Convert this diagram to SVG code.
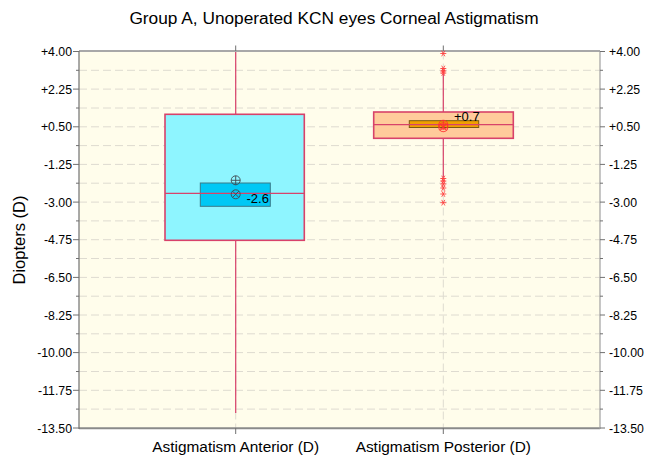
<svg xmlns="http://www.w3.org/2000/svg" width="645" height="459" viewBox="0 0 645 459">
<style>
text{font-family:"Liberation Sans",Arial,sans-serif;fill:#000}
.tl{font-size:12.3px;text-anchor:end}
.tr{font-size:12.3px;text-anchor:start}
.cat{font-size:15.4px;text-anchor:middle}
.grid{stroke:#DEDBD0;stroke-width:1;stroke-dasharray:8 4;fill:none}
.tick{stroke:#707070;stroke-width:1}
.wh{stroke:#D8426A;stroke-width:1.2;fill:none}
.box{stroke:#D8426A;stroke-width:1.6}
.ast{stroke:#FF3A3A;stroke-width:1;fill:none;opacity:0.85}
</style>
<defs>
<g id="star"><path d="M-3,0h6M-1.6,-2.8l3.2,5.6M1.6,-2.8l-3.2,5.6" class="ast"/></g>
</defs>
<rect x="0" y="0" width="645" height="459" fill="#FFFFFF"/>
<text x="334" y="24" style="font-size:17.3px;text-anchor:middle">Group A, Unoperated KCN eyes Corneal Astigmatism</text>
<g id="plot-area">
<rect x="79" y="51.5" width="521" height="376.5" fill="#FFFDEB"/>
<g class="grid">
<path d="M79,70.3H600M79,89.1H600M79,108H600M79,126.8H600M79,145.6H600M79,164.4H600M79,183.2H600M79,202.1H600M79,220.9H600M79,239.7H600M79,258.5H600M79,277.4H600M79,296.2H600M79,315H600M79,333.8H600M79,352.6H600M79,371.5H600M79,390.3H600M79,409.1H600"/>
<path d="M235.7,51.5V428M443.3,51.5V428"/>
</g>
<line x1="79" y1="51" x2="600" y2="51" stroke="#A8A8A8" stroke-width="2"/>
<line x1="79" y1="428.3" x2="600" y2="428.3" stroke="#8A8A8A" stroke-width="2"/>
<line x1="79" y1="51" x2="79" y2="429" stroke="#707070" stroke-width="1.2"/>
<line x1="600" y1="51" x2="600" y2="429" stroke="#A0A0A0" stroke-width="1.2"/>
</g>
<g id="y-axis-left">
<path class="tick" d="M73,51.5H79M73,89.1H79M73,126.8H79M73,164.4H79M73,202.1H79M73,239.7H79M73,277.4H79M73,315H79M73,352.6H79M73,390.3H79M73,428H79M76,70.3H79M76,108H79M76,145.6H79M76,183.2H79M76,220.9H79M76,258.5H79M76,296.2H79M76,333.8H79M76,371.5H79M76,409.1H79"/>
<text class="tl" x="72" y="56">+4.00</text>
<text class="tl" x="72" y="93.6">+2.25</text>
<text class="tl" x="72" y="131.3">+0.50</text>
<text class="tl" x="72" y="168.9">-1.25</text>
<text class="tl" x="72" y="206.6">-3.00</text>
<text class="tl" x="72" y="244.2">-4.75</text>
<text class="tl" x="72" y="281.9">-6.50</text>
<text class="tl" x="72" y="319.5">-8.25</text>
<text class="tl" x="72" y="357.1">-10.00</text>
<text class="tl" x="72" y="394.8">-11.75</text>
<text class="tl" x="72" y="432.5">-13.50</text>
<text transform="translate(25,240) rotate(-90)" style="font-size:16.5px;text-anchor:middle">Diopters (D)</text>
</g>
<g id="y-axis-right">
<path class="tick" d="M600,51.5H605M600,89.1H605M600,126.8H605M600,164.4H605M600,202.1H605M600,239.7H605M600,277.4H605M600,315H605M600,352.6H605M600,390.3H605M600,428H605M600,70.3H603M600,108H603M600,145.6H603M600,183.2H603M600,220.9H603M600,258.5H603M600,296.2H603M600,333.8H603M600,371.5H603M600,409.1H603"/>
<text class="tr" x="609" y="56">+4.00</text>
<text class="tr" x="609" y="93.6">+2.25</text>
<text class="tr" x="609" y="131.3">+0.50</text>
<text class="tr" x="609" y="168.9">-1.25</text>
<text class="tr" x="609" y="206.6">-3.00</text>
<text class="tr" x="609" y="244.2">-4.75</text>
<text class="tr" x="609" y="281.9">-6.50</text>
<text class="tr" x="609" y="319.5">-8.25</text>
<text class="tr" x="609" y="357.1">-10.00</text>
<text class="tr" x="609" y="394.8">-11.75</text>
<text class="tr" x="609" y="432.5">-13.50</text>
</g>
<g id="x-axis">
<path class="tick" d="M235.7,428V434M443.3,428V434M235.7,45.5V51M443.3,45.5V51"/>
<text class="cat" x="235.7" y="452">Astigmatism Anterior (D)</text>
<text class="cat" x="443.3" y="452">Astigmatism Posterior (D)</text>
</g>
<g id="box-anterior">
<path class="wh" d="M235.7,52V114.3M235.7,240.3V413"/>
<rect class="box" x="165" y="114.3" width="139.3" height="126" fill="#8EF5FF"/>
<rect x="200.3" y="183" width="70" height="23.3" fill="#00C8F5" stroke="#3A7A88" stroke-width="1"/>
<line class="wh" x1="165" y1="193.3" x2="304.3" y2="193.3"/>
<g fill="none" stroke="#404850" stroke-width="0.9">
<circle cx="235.7" cy="180.3" r="4.5"/>
<path d="M231.2,180.3H240.2M235.7,175.8V184.8"/>
<circle cx="235.7" cy="194.3" r="4.5"/>
<path d="M232.5,191.1L238.9,197.5M238.9,191.1L232.5,197.5"/>
</g>
<text x="246.5" y="202.5" style="font-size:13px">-2.6</text>
</g>
<g id="box-posterior">
<path class="wh" d="M443.3,74V112M443.3,138.3V177.5"/>
<rect class="box" x="373.7" y="112" width="139.6" height="26.3" fill="#FFCB9B"/>
<rect x="409.3" y="120.7" width="69.4" height="6.8" fill="#F0A000" stroke="#7A5A10" stroke-width="1"/>
<line class="wh" x1="373.7" y1="124.7" x2="513.3" y2="124.7"/>
<g fill="none" stroke="#FF3030" stroke-width="1.1" opacity="0.9">
<circle cx="443.3" cy="124.8" r="4.5"/>
<path d="M438.8,124.8H447.8M443.3,120.3V129.3"/>
<circle cx="443.3" cy="127.2" r="4.5"/>
<path d="M440.1,124L446.5,130.4M446.5,124L440.1,130.4"/>
</g>
<text x="454" y="121" style="font-size:13px">+0.7</text>
<use href="#star" x="443.3" y="53.5"/>
<use href="#star" x="443.3" y="68.5"/>
<use href="#star" x="443.3" y="71"/>
<use href="#star" x="443.3" y="73"/>
<use href="#star" x="443.3" y="178.5"/>
<use href="#star" x="443.3" y="181"/>
<use href="#star" x="443.3" y="184"/>
<use href="#star" x="443.3" y="188"/>
<use href="#star" x="443.3" y="194"/>
<use href="#star" x="443.3" y="202.7"/>
</g>
</svg>
